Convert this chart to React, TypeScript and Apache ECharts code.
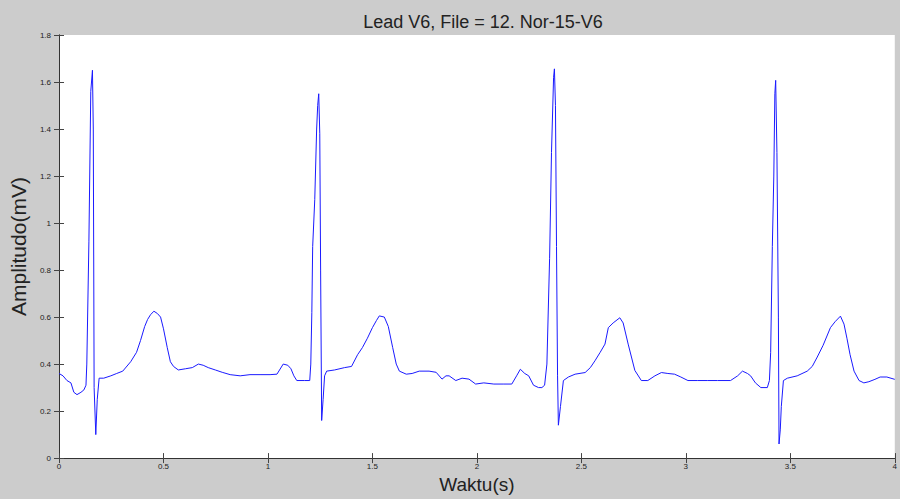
import React, { useEffect, useRef } from "react";
import * as echarts from "echarts";

const TITLE = "Lead V6, File = 12. Nor-15-V6";
const X_NAME = "Waktu(s)";
const Y_NAME = "Amplitudo(mV)";

// time (s)
const times: number[] = [
  0.000, 0.019, 0.038, 0.057, 0.071, 0.086, 0.105, 0.119, 0.129, 0.133,
  0.143, 0.152, 0.160, 0.164, 0.168, 0.176, 0.183, 0.192, 0.214, 0.248,
  0.276, 0.305, 0.343, 0.371, 0.390, 0.410, 0.424, 0.438, 0.454, 0.471,
  0.486, 0.500, 0.518, 0.533, 0.548, 0.571, 0.605, 0.638, 0.667, 0.690,
  0.714, 0.748, 0.781, 0.819, 0.867, 0.914, 0.962, 1.010, 1.043,
  1.073, 1.095, 1.110, 1.124, 1.138, 1.176, 1.200, 1.205, 1.210, 1.214,
  1.224, 1.233, 1.238, 1.243, 1.248, 1.252, 1.257, 1.264, 1.271, 1.281,
  1.319, 1.367, 1.400, 1.429, 1.452, 1.476, 1.500, 1.519, 1.533, 1.557,
  1.576, 1.597, 1.614, 1.629, 1.662, 1.690, 1.724, 1.771, 1.805, 1.833,
  1.852, 1.867, 1.899, 1.929, 1.962, 1.994, 2.033, 2.081, 2.129, 2.167,
  2.190, 2.208, 2.229, 2.248, 2.271, 2.295, 2.311, 2.324, 2.335, 2.348,
  2.357, 2.367, 2.371, 2.376, 2.381, 2.386, 2.390, 2.400, 2.414, 2.438,
  2.470, 2.518, 2.543, 2.565, 2.590, 2.613, 2.629, 2.652, 2.684, 2.700,
  2.724, 2.756, 2.787, 2.818, 2.852, 2.883, 2.914, 2.946, 2.976, 3.010,
  3.057, 3.105, 3.152, 3.214,
  3.248, 3.271, 3.295, 3.310, 3.333, 3.359, 3.390, 3.400, 3.406, 3.414,
  3.421, 3.426, 3.430, 3.436, 3.443, 3.446, 3.452, 3.457, 3.467, 3.486,
  3.533, 3.581, 3.605, 3.629, 3.657, 3.692, 3.714, 3.740, 3.757, 3.771,
  3.786, 3.805, 3.829, 3.852, 3.876, 3.905, 3.930, 3.962, 4.000,
];

// amplitude (mV)
const amplitude: number[] = [
  0.36, 0.35, 0.33, 0.32, 0.28, 0.27, 0.28, 0.29, 0.31, 0.40,
  0.92, 1.56, 1.65, 1.40, 0.30, 0.10, 0.25, 0.34, 0.34, 0.35,
  0.36, 0.37, 0.41, 0.45, 0.50, 0.56, 0.59, 0.61, 0.625, 0.615,
  0.60, 0.55, 0.47, 0.41, 0.39, 0.375, 0.38, 0.385, 0.40, 0.395,
  0.385, 0.375, 0.365, 0.355, 0.35, 0.355, 0.355, 0.355, 0.357,
  0.40, 0.395, 0.38, 0.35, 0.33, 0.33, 0.33, 0.40, 0.62, 0.90,
  1.10, 1.40, 1.50, 1.55, 1.38, 0.80, 0.16, 0.25, 0.35, 0.37,
  0.375, 0.385, 0.39, 0.44, 0.47, 0.51, 0.555, 0.585, 0.605, 0.60,
  0.56, 0.47, 0.40, 0.37, 0.357, 0.36, 0.37, 0.37, 0.365, 0.336,
  0.35, 0.35, 0.33, 0.34, 0.336, 0.315, 0.32, 0.315, 0.315, 0.315,
  0.35, 0.378, 0.36, 0.35, 0.31, 0.30, 0.30, 0.31, 0.40, 0.85,
  1.30, 1.62, 1.656, 1.50, 0.90, 0.35, 0.14, 0.22, 0.33, 0.345,
  0.357, 0.364, 0.385, 0.414, 0.45, 0.485, 0.555, 0.575, 0.597, 0.575,
  0.485, 0.373, 0.33, 0.33, 0.35, 0.364, 0.36, 0.357, 0.345, 0.33,
  0.33, 0.33, 0.33, 0.33,
  0.35, 0.37, 0.36, 0.35, 0.32, 0.30, 0.30, 0.33, 0.45, 0.90,
  1.20, 1.55, 1.607, 1.30, 0.60, 0.06, 0.12, 0.22, 0.33, 0.34,
  0.35, 0.37, 0.39, 0.43, 0.48, 0.555, 0.58, 0.604, 0.57, 0.51,
  0.44, 0.37, 0.33, 0.32, 0.325, 0.335, 0.345, 0.345, 0.335,
];

const xTicks: number[] = [0, 0.5, 1, 1.5, 2, 2.5, 3, 3.5, 4];
const yTicks: number[] = [0, 0.2, 0.4, 0.6, 0.8, 1, 1.2, 1.4, 1.6, 1.8];

export default function App() {
  const ref = useRef<HTMLDivElement>(null);

  useEffect(() => {
    if (!ref.current) return;
    const chart = echarts.init(ref.current, undefined, { renderer: "svg" });
    const data = times.map((t, i) => [t, amplitude[i]]);
    const font = "'Liberation Sans', Arial, sans-serif";
    const tickLabel = { fontSize: 8, color: "#222", fontFamily: font };
    const axisLine = { show: true, lineStyle: { color: "#333", width: 1 } };
    const axisTick = { show: true, inside: true, length: 5, lineStyle: { color: "#444", width: 1 } };
    chart.setOption({
      animation: false,
      backgroundColor: "#cccccc",
      title: {
        text: TITLE,
        left: 478,
        top: 8,
        textAlign: "center",
        textStyle: { fontSize: 18, fontWeight: "normal", color: "#222", fontFamily: font },
      },
      grid: { left: 58, right: 2, top: 35, bottom: 37, show: true, backgroundColor: "#ffffff", borderWidth: 0 },
      xAxis: [
        {
          type: "value",
          min: xTicks[0],
          max: xTicks[xTicks.length - 1],
          interval: 0.5,
          name: X_NAME,
          nameLocation: "middle",
          nameGap: 15,
          nameTextStyle: { fontSize: 19, color: "#222", fontFamily: font, verticalAlign: "top" },
          axisLine,
          axisTick,
          splitLine: { show: false },
          axisLabel: { ...tickLabel, margin: 4, showMaxLabel: true },
        },
        {
          type: "value",
          position: "top",
          min: xTicks[0],
          max: xTicks[xTicks.length - 1],
          interval: 0.5,
          axisLine,
          axisTick,
          splitLine: { show: false },
          axisLabel: { show: false },
        },
      ],
      yAxis: [
        {
          type: "value",
          min: yTicks[0],
          max: yTicks[yTicks.length - 1],
          interval: 0.2,
          name: Y_NAME,
          nameLocation: "middle",
          nameGap: 21,
          nameTextStyle: { fontSize: 21, color: "#222", fontFamily: font },
          axisLine,
          axisTick,
          splitLine: { show: false },
          axisLabel: {
            ...tickLabel,
            margin: 8,
            formatter: (v: number) => String(Math.round(v * 10) / 10),
          },
        },
        {
          type: "value",
          position: "right",
          min: yTicks[0],
          max: yTicks[yTicks.length - 1],
          interval: 0.2,
          axisLine,
          axisTick,
          splitLine: { show: false },
          axisLabel: { show: false },
        },
      ],
      series: [
        {
          type: "line",
          data,
          xAxisIndex: 0,
          yAxisIndex: 0,
          showSymbol: false,
          symbol: "none",
          lineStyle: { color: "#1a1aff", width: 1 },
        },
      ],
    });
    return () => chart.dispose();
  }, []);

  return (
    <div
      ref={ref}
      style={{ position: "fixed", left: 0, top: 0, width: 900, height: 499 }}
    />
  );
}
